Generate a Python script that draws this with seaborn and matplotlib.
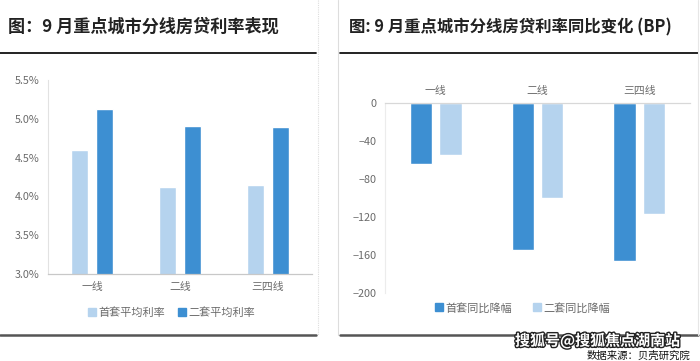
import matplotlib.pyplot as plt
import matplotlib.patheffects as pe
import pandas as pd
import seaborn as sns
from matplotlib.lines import Line2D

# data
cities = ['一线', '二线', '三四线']
first_rate = [4.60, 4.12, 4.15]      # 首套平均利率 (%)
second_rate = [5.12, 4.91, 4.90]     # 二套平均利率 (%)
first_yoy = [-65, -155, -167]        # 首套同比降幅 (BP)
second_yoy = [-55, -100, -117]       # 二套同比降幅 (BP)
rate_ticks = [3.0, 3.5, 4.0, 4.5, 5.0, 5.5]
yoy_ticks = [0, -40, -80, -120, -160, -200]

DARK = '#3d8fd2'
LIGHT = '#b5d3ee'
GRAY = '#6b6b6b'

sns.set_theme(style='white')
plt.rcParams['font.family'] = ['Noto Sans CJK SC', 'DejaVu Sans']

W, H = 700, 361
fig = plt.figure(figsize=(7, 3.61), dpi=100)


def box(x0, y0, x1, y1):
    # pixel box (top-left origin) -> figure fraction
    return [x0 / W, 1 - y1 / H, (x1 - x0) / W, (y1 - y0) / H]


def hline(x0, x1, y, **kw):
    fig.add_artist(Line2D([x0 / W, x1 / W], [1 - y / H, 1 - y / H], transform=fig.transFigure, **kw))


def vline(x, y0, y1, **kw):
    fig.add_artist(Line2D([x / W, x / W], [1 - y0 / H, 1 - y1 / H], transform=fig.transFigure, **kw))


# panel frames
hline(0, 316, 53, color='#111111', lw=1.3)
hline(340, 698, 53, color='#111111', lw=1.3)
hline(0, 316, 335, color='#555555', lw=1.8)
hline(340, 698, 335, color='#555555', lw=1.8)
vline(318, 0, 335, color='#dddddd', lw=0.8, ls=(0, (1, 1)))
vline(338, 0, 335, color='#dddddd', lw=0.8)
vline(698, 0, 335, color='#e6e6e6', lw=0.8)

fig.text(8 / W, 1 - 27 / H, '图：9 月重点城市分线房贷利率表现', fontsize=12.3,
         fontweight='bold', color='#222222', va='center', ha='left')
fig.text(349 / W, 1 - 27 / H, '图: 9 月重点城市分线房贷利率同比变化 (BP)', fontsize=11.8,
         fontweight='bold', color='#222222', va='center', ha='left')

# left chart: rates
df_rate = pd.DataFrame({
    'city': cities * 2,
    'value': first_rate + second_rate,
    'kind': ['首套平均利率'] * 3 + ['二套平均利率'] * 3,
})
ax1 = fig.add_axes(box(48, 80, 312, 274))
sns.barplot(data=df_rate, x='city', y='value', hue='kind', ax=ax1, saturation=1,
            palette=[LIGHT, DARK], width=0.56, gap=0.29, legend=False)
ax1.set_ylim(3.0, 5.5)
ax1.set_xlim(-0.5, 2.5)
ax1.set_yticks(rate_ticks)
ax1.set_yticklabels([f'{t:.1f}%' for t in rate_ticks])
ax1.set_xlabel('')
ax1.set_ylabel('')
ax1.tick_params(length=0, labelsize=7.8, labelcolor=GRAY, pad=6)
for s in ['top', 'right']:
    ax1.spines[s].set_visible(False)
ax1.spines['left'].set_color('#e2e2e2')
ax1.spines['bottom'].set_color('#c8c8c8')
ax1.spines['left'].set_linewidth(0.8)
ax1.spines['bottom'].set_linewidth(0.9)

h1 = [Line2D([], [], marker='s', ls='none', color=c, markersize=5.5) for c in [LIGHT, DARK]]
ax1.legend(h1, ['首套平均利率', '二套平均利率'], loc='center', ncol=2, frameon=False,
           bbox_to_anchor=(0.466, -0.2), fontsize=8, labelcolor=GRAY,
           handletextpad=0.1, columnspacing=1.0, handlelength=1.0)

# right chart: yoy change
df_yoy = pd.DataFrame({
    'city': cities * 2,
    'value': first_yoy + second_yoy,
    'kind': ['首套同比降幅'] * 3 + ['二套同比降幅'] * 3,
})
ax2 = fig.add_axes(box(385, 102.7, 690, 292.7))
sns.barplot(data=df_yoy, x='city', y='value', hue='kind', ax=ax2, saturation=1,
            palette=[DARK, LIGHT], width=0.58, gap=0.24, legend=False)
ax2.set_ylim(-200, 0)
ax2.set_xlim(-0.5, 2.5)
ax2.set_yticks(yoy_ticks)
ax2.set_xlabel('')
ax2.set_ylabel('')
ax2.xaxis.tick_top()
ax2.tick_params(length=0, labelsize=7.8, labelcolor=GRAY, pad=6)
ax2.tick_params(axis='x', pad=5)
for s in ['right', 'bottom']:
    ax2.spines[s].set_visible(False)
ax2.spines['left'].set_color('#ececec')
ax2.spines['top'].set_color('#d8d8d8')
ax2.spines['left'].set_linewidth(0.8)
ax2.spines['top'].set_linewidth(0.9)

h2 = [Line2D([], [], marker='s', ls='none', color=c, markersize=5.5) for c in [DARK, LIGHT]]
ax2.legend(h2, ['首套同比降幅', '二套同比降幅'], loc='center', ncol=2, frameon=False,
           bbox_to_anchor=(0.449, -0.08), fontsize=8, labelcolor=GRAY,
           handletextpad=0.1, columnspacing=1.7, handlelength=1.0)

# watermark and source note
fig.text(515 / W, 1 - 341 / H, '搜狐号@搜狐焦点湖南站', fontsize=10.8, color='white',
         ha='left', va='center', fontweight='bold',
         path_effects=[pe.withStroke(linewidth=2, foreground='#222222')])
fig.text(690 / W, 1 - 355.5 / H, '数据来源：贝壳研究院', fontsize=7.5, color='#111111',
         ha='right', va='center')

fig.savefig('out.png', dpi=100, facecolor='white')
